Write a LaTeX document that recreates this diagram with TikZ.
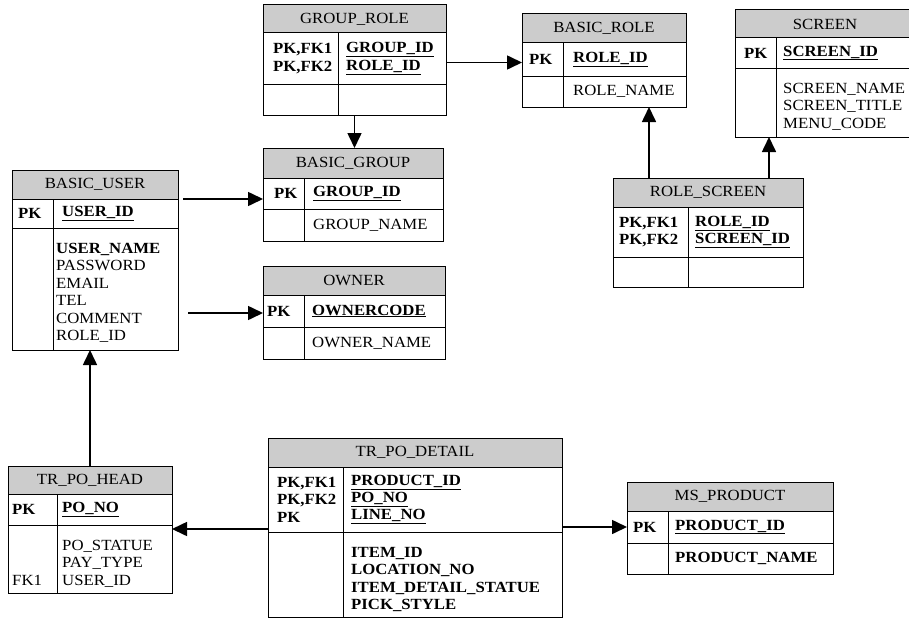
\documentclass[tikz,border=0pt]{standalone}
\usepackage{fontspec}
\setmainfont[FakeStretch=1.08]{Liberation Serif}
\usetikzlibrary{arrows.meta}

% one table: name, x, y, width, header h, key row h, body h, divider, title
\newcommand{\ertable}[9]{%
  \node[hdr, minimum width=#4, minimum height=#5] (#1) at (#2,#3) {#9};
  \node[row, minimum width=#4, minimum height=#6] (#1-pk) at (#1.south west) {};
  \node[row, minimum width=#4, minimum height=#7] (#1-body) at (#1-pk.south west) {};
  \draw[line width=1pt] ([xshift=#8]#1-pk.north west) -- ([xshift=#8]#1-body.south west);}

\begin{document}
\begin{tikzpicture}[x=1pt,y=-1pt,
  every node/.style={font=\fontsize{15.5}{17.4}\selectfont},
  hdr/.style={draw, fill=gray!40, line width=1pt, inner sep=0, outer sep=0, anchor=north west},
  row/.style={draw, fill=white, line width=1pt, inner sep=0, outer sep=0, anchor=north west},
  key/.style={font=\fontsize{15.5}{17.4}\selectfont\bfseries, anchor=west, inner sep=0, align=left},
  fld/.style={anchor=west, inner sep=0, align=left},
  lst/.style={anchor=north west, inner sep=0, align=left, yshift=-15},
  arr/.style={line width=1.6pt, -{Triangle[length=15pt,width=14pt]}}]
\useasboundingbox (0,0) rectangle (909,618);

% tables
\ertable{user}{12}{170}{166}{29}{29}{122}{41}{BASIC\_USER}
\ertable{grole}{263}{5}{183}{28}{51}{31}{75}{GROUP\_ROLE}
\ertable{group}{263}{148}{180}{30}{31}{32}{41}{BASIC\_GROUP}
\ertable{role}{522}{14}{164}{29}{33}{31}{41}{BASIC\_ROLE}
\ertable{screen}{735}{10}{180}{28}{30}{69}{41}{SCREEN}
\ertable{rscreen}{613}{178}{190}{29}{50}{30}{75}{ROLE\_SCREEN}
\ertable{owner}{263}{266}{182}{29}{32}{32}{41}{OWNER}
\ertable{head}{8}{466}{164}{28}{31}{68}{49}{TR\_PO\_HEAD}
\ertable{detail}{268}{438}{294}{29}{65}{85}{75}{TR\_PO\_DETAIL}
\ertable{product}{627}{482}{206}{29}{32}{31}{41}{MS\_PRODUCT}

% BASIC_USER
\node[key] at ([xshift=6]user-pk.west) {PK};
\node[key] at ([xshift=50]user-pk.west) {\underline{USER\_ID}};
\node[lst] at ([xshift=44]user-body.north west) {\textbf{USER\_NAME}\\PASSWORD\\EMAIL\\TEL\\COMMENT\\ROLE\_ID};

% GROUP_ROLE
\node[key] at ([xshift=10]grole-pk.west) {PK,FK1\\PK,FK2};
\node[key] at ([xshift=83]grole-pk.west) {\underline{GROUP\_ID}\\\underline{ROLE\_ID}};

% BASIC_GROUP
\node[key] at ([xshift=11]group-pk.west) {PK};
\node[key] at ([xshift=50]group-pk.west) {\underline{GROUP\_ID}};
\node[fld] at ([xshift=50]group-body.west) {GROUP\_NAME};

% BASIC_ROLE
\node[key] at ([xshift=7]role-pk.west) {PK};
\node[key] at ([xshift=51]role-pk.west) {\underline{ROLE\_ID}};
\node[fld] at ([xshift=51]role-body.west) {ROLE\_NAME};

% SCREEN
\node[key] at ([xshift=9]screen-pk.west) {PK};
\node[key] at ([xshift=48]screen-pk.west) {\underline{SCREEN\_ID}};
\node[lst] at ([xshift=48]screen-body.north west) {SCREEN\_NAME\\SCREEN\_TITLE\\MENU\_CODE};

% ROLE_SCREEN
\node[key] at ([xshift=6]rscreen-pk.west) {PK,FK1\\PK,FK2};
\node[key] at ([xshift=82]rscreen-pk.west) {\underline{ROLE\_ID}\\\underline{SCREEN\_ID}};

% OWNER
\node[key] at ([xshift=4]owner-pk.west) {PK};
\node[key] at ([xshift=49]owner-pk.west) {\underline{OWNERCODE}};
\node[fld] at ([xshift=49]owner-body.west) {OWNER\_NAME};

% TR_PO_HEAD
\node[key] at ([xshift=4]head-pk.west) {PK};
\node[key] at ([xshift=54]head-pk.west) {\underline{PO\_NO}};
\node[lst] at ([xshift=4]head-body.north west) {\phantom{P}\\\phantom{P}\\FK1};
\node[lst] at ([xshift=54]head-body.north west) {PO\_STATUE\\PAY\_TYPE\\USER\_ID};

% TR_PO_DETAIL
\node[key] at ([xshift=9]detail-pk.west) {PK,FK1\\PK,FK2\\PK};
\node[key] at ([xshift=83]detail-pk.west) {\underline{PRODUCT\_ID}\\\underline{PO\_NO}\\\underline{LINE\_NO}};
\node[lst, font=\fontsize{15.5}{17.4}\selectfont\bfseries] at ([xshift=83]detail-body.north west) {ITEM\_ID\\LOCATION\_NO\\ITEM\_DETAIL\_STATUE\\PICK\_STYLE};

% MS_PRODUCT
\node[key] at ([xshift=6]product-pk.west) {PK};
\node[key] at ([xshift=48]product-pk.west) {\underline{PRODUCT\_ID}};
\node[key] at ([xshift=48]product-body.west) {PRODUCT\_NAME};

% connectors
\coordinate (u1) at ([xshift=5]user.south east);
\coordinate (u2) at (188,313);
\coordinate (g1) at ([yshift=-4]grole-pk.east);
\coordinate (r1) at (649,178);
\coordinate (r2) at (769,178);
\coordinate (d1) at (268,529);
\draw[arr] (u1) -- (u1 -| group.west);
\draw[arr] (u2) -- (u2 -| owner.west);
\draw[arr] (grole-body.south) -- (grole-body.south |- group.north);
\draw[arr] (g1) -- (g1 -| role.west);
\draw[arr] (r1) -- (r1 |- role-body.south);
\draw[arr] (r2) -- (r2 |- screen-body.south);
\draw[arr] (head.north) -- (head.north |- user-body.south);
\draw[arr] (d1) -- (d1 -| head.east);
\draw[arr] (product-pk.west -| detail.east) -- (product-pk.west);
\end{tikzpicture}
\end{document}
